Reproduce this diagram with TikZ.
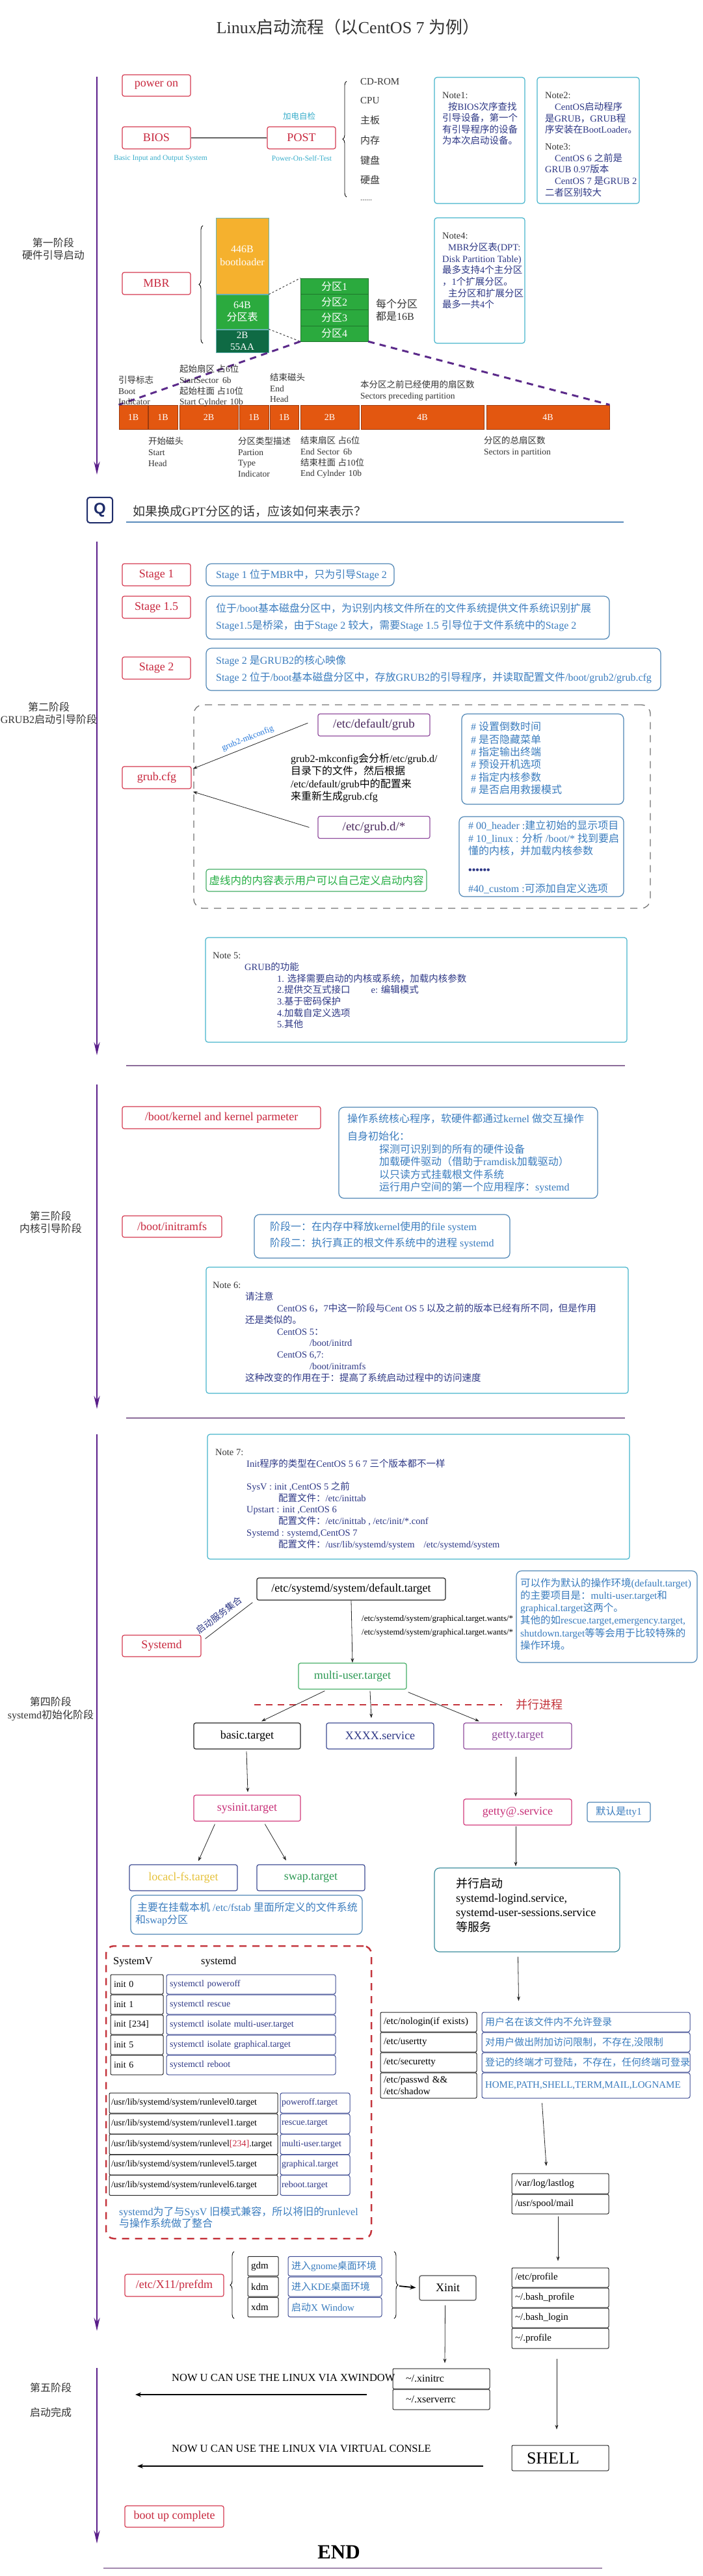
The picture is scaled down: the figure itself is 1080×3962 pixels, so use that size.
\documentclass[tikz,border=0pt]{standalone}
\usepackage{fontspec}
\setmainfont{Liberation Serif}
\newfontfamily\cjkf{Noto Sans CJK SC}
\newfontfamily\latf{Liberation Serif}
\newfontfamily\sansf{Liberation Sans}
\XeTeXinterchartokenstate=1
\newXeTeXintercharclass\zhcls
\newcount\zhcnt
\def\zhrange#1#2{\zhcnt=#1\relax\loop\XeTeXcharclass\zhcnt=\zhcls\relax\ifnum\zhcnt<#2\relax\advance\zhcnt by 1\relax\repeat}
\zhrange{"3000}{"303F}
\zhrange{"4E00}{"9FFF}
\zhrange{"FF00}{"FFEF}
\XeTeXinterchartoks 0 \zhcls = {\cjkf}
\XeTeXinterchartoks 4095 \zhcls = {\cjkf}
\XeTeXinterchartoks \zhcls 0 = {\latf}
\XeTeXinterchartoks \zhcls 4095 = {\latf}
\usetikzlibrary{arrows.meta,decorations.pathreplacing,calc}
\newcommand\fsz[2]{\fontsize{#1}{#2}\selectfont}
\definecolor{tlc}{HTML}{5A1F8A}
\definecolor{redb}{HTML}{D43A50}
\definecolor{redt}{HTML}{C8283E}
\definecolor{cyanb}{HTML}{45B4CC}
\definecolor{navyt}{HTML}{2E3886}
\definecolor{blueb}{HTML}{4D85B5}
\definecolor{bluet}{HTML}{3A7CBE}
\definecolor{cyant}{HTML}{3AAECB}
\definecolor{orangef}{HTML}{F5B12E}
\definecolor{greenf}{HTML}{2BAA3E}
\definecolor{dgreenf}{HTML}{0F6A44}
\definecolor{barf}{HTML}{E35710}
\definecolor{bard}{HTML}{9C3A0E}
\definecolor{purb}{HTML}{8F4A9C}
\definecolor{purt}{HTML}{4B2A5E}
\definecolor{pinkb}{HTML}{D2397C}
\definecolor{pinkt}{HTML}{C83078}
\definecolor{navyb}{HTML}{3C4A92}
\definecolor{greenb}{HTML}{45AE66}
\definecolor{greent}{HTML}{2E9A55}
\definecolor{sepc}{HTML}{8C6C9A}
\definecolor{qnavy}{HTML}{1E2C6A}
\definecolor{qlinec}{HTML}{5A8CBC}
\definecolor{yelt}{HTML}{E6C23C}
\definecolor{tealb}{HTML}{3A8C9C}
\definecolor{dashred}{HTML}{C4343C}
\definecolor{gtext}{HTML}{333333}
\definecolor{purpd}{HTML}{5B2A8A}
\begin{document}
\begin{tikzpicture}[x=1pt,y=-1pt,
  redbox/.style={draw=redb,text=redt,line width=1.2pt,rounded corners=3pt,fill=white,font=\fsz{18}{21},inner sep=0pt},
  notebox/.style={draw=cyanb,line width=1.2pt,rounded corners=4pt,inner sep=0pt},
  descbox/.style={draw=blueb,line width=1.2pt,rounded corners=8pt,inner sep=0pt},
  blkbox/.style={draw=black!85,line width=1.2pt,rounded corners=3pt,inner sep=0pt,fill=white},
  txt/.style={anchor=north west,inner sep=0pt,align=left},
  ltx/.style={anchor=west,inner sep=0pt},
  tline/.style={draw=tlc,line width=2.8pt,-{Stealth[length=20pt,width=9pt]}},
  sepline/.style={draw=sepc,line width=2.5pt},
  arr/.style={draw=black!85,line width=0.8pt,-{Stealth[length=7pt,width=5pt]}},
  bigarr/.style={draw=black,line width=2.2pt,-{Stealth[length=9pt,width=7pt]}},
  stg/.style={align=center,inner sep=0pt,font=\fsz{16}{19.5},text=gtext},
  barcell/.style={draw=bard,fill=barf,text=white,minimum height=37,inner sep=0pt,font=\fsz{14}{16},line width=0.8pt},
  part/.style={draw=greenf!70!black,fill=greenf,text=white,minimum width=104,minimum height=24.25,inner sep=0pt,font=\fsz{16}{18}},
  ibox/.style={draw=black!85,line width=1pt,rounded corners=2pt,inner xsep=5pt,inner ysep=0pt,minimum height=30,align=left,font=\fsz{14}{16}},
  sbox/.style={draw=navyb,line width=1pt,rounded corners=3pt,inner xsep=5pt,inner ysep=0pt,minimum height=30,align=left,font=\fsz{14}{16},text=navyt},
  brc/.style={decorate,decoration={brace,amplitude=6pt},line width=0.9pt}
]
\fill[white] (0,0) rectangle (1080,3962);
\useasboundingbox (0,0) rectangle (1080,3962);

% ---------- title
\node[font=\fsz{26}{30},text=gtext,inner sep=0pt] (title) at (535,42) {Linux启动流程（以CentOS 7 为例）};

% ---------- stage 1
\coordinate (t1a) at (149,118); \coordinate (t1b) at (149,730);
\draw[tline] (t1a) -- (t1b);
\node[stg] (s1) at (82,383) {第一阶段\\硬件引导启动};
\node[redbox,minimum width=105,minimum height=33] (poweron) at (240.5,131.5) {power on};
\node[redbox,minimum width=105,minimum height=34] (bios) at (240.5,212) {BIOS};
\node[redbox,minimum width=105,minimum height=34] (post) at (463.5,212) {POST};
\draw[draw=black!60,line width=2.5pt] (bios) -- (post);
\node[text=cyant,font=\fsz{11.5}{13},inner sep=0pt] (biosl) at (247,244) {Basic Input and Output System};
\node[text=cyant,font=\fsz{11.5}{13},inner sep=0pt] (postl) at (464,244) {Power-On-Self-Test};
\node[text=cyant,font=\fsz{12.5}{14},inner sep=0pt] (jd) at (460,179) {加电自检};
\coordinate (br1a) at (533,303); \coordinate (br1b) at (533,125);
\draw[brc] (br1a) -- (br1b);
\node[ltx,font=\fsz{15}{18},text=gtext] (hw1) at (554,126) {CD-ROM};
\node[ltx,font=\fsz{15}{18},text=gtext] (hw2) at (554,155) {CPU};
\node[ltx,font=\fsz{15}{18},text=gtext] (hw3) at (554,185) {主板};
\node[ltx,font=\fsz{15}{18},text=gtext] (hw4) at (554,216) {内存};
\node[ltx,font=\fsz{15}{18},text=gtext] (hw5) at (554,247) {键盘};
\node[ltx,font=\fsz{15}{18},text=gtext] (hw6) at (554,277) {硬盘};
\node[ltx,font=\fsz{12}{14},text=gtext] (hw7) at (554,308) {......};

\node[notebox,minimum width=139,minimum height=194] (note1) at (737.5,216) {};
\node[txt,text=navyt,font=\fsz{14.5}{17.5}] (note1t) at (680,142) {{\color{gtext}Note1:}\\\hspace*{9pt}按BIOS次序查找\\引导设备，第一个\\有引导程序的设备\\为本次启动设备。};
\node[notebox,minimum width=157,minimum height=194] (note2) at (904.5,216) {};
\node[txt,text=navyt,font=\fsz{14.5}{17.6}] (note2t) at (838,142) {{\color{gtext}Note2:}\\\hspace*{15pt}CentOS启动程序\\是GRUB，GRUB程\\序安装在BootLoader。\\[8.5pt]{\color{gtext}Note3:}\\\hspace*{15pt}CentOS 6 之前是\\GRUB 0.97版本\\\hspace*{15pt}CentOS 7 是GRUB 2\\二者区别较大};

% MBR
\node[redbox,minimum width=105,minimum height=34] (mbr) at (240.5,436) {MBR};
\coordinate (br2a) at (312,528); \coordinate (br2b) at (312,347);
\draw[brc] (br2a) -- (br2b);
\node[draw=teal!60,fill=orangef,minimum width=81,minimum height=117,inner sep=0pt,text=white,font=\fsz{16}{20},align=center] (boot) at (372.5,393.5) {446B\\bootloader};
\node[draw=teal!60,fill=greenf,minimum width=81,minimum height=53,inner sep=0pt,text=white,font=\fsz{16}{18.5},align=center] (ptab) at (372.5,479.5) {64B\\分区表};
\node[draw=teal!60,fill=dgreenf,minimum width=81,minimum height=35,inner sep=0pt,text=white,font=\fsz{15}{18},align=center] (aa55) at (372.5,524.5) {2B\\55AA};
\node[part] (p1) at (514,440.1) {分区1};
\node[part] (p2) at (514,464.4) {分区2};
\node[part] (p3) at (514,488.6) {分区3};
\node[part] (p4) at (514,512.9) {分区4};
\draw[dashed,black!80,line width=0.9pt] (ptab.north east) -- (p1.north west);
\draw[dashed,black!80,line width=0.9pt] (ptab.south east) -- (p4.south west);
\node[txt,font=\fsz{16}{19},text=gtext] (each) at (578,460) {每个分区\\都是16B};
\node[notebox,minimum width=139,minimum height=193] (note4) at (737.5,431.5) {};
\node[txt,text=navyt,font=\fsz{14.5}{17.7}] (note4t) at (680,358) {{\color{gtext}Note4:}\\\hspace*{9pt}MBR分区表(DPT:\\Disk Partition Table)\\最多支持4个主分区\\，1个扩展分区。\\\hspace*{9pt}主分区和扩展分区\\最多一共4个};

\node[barcell,minimum width=44] (c1) at (205,641.5) {1B};
\node[barcell,minimum width=45] (c2) at (250.5,641.5) {1B};
\node[barcell,minimum width=90] (c3) at (321,641.5) {2B};
\node[barcell,minimum width=45] (c4) at (390.5,641.5) {1B};
\node[barcell,minimum width=44] (c5) at (437,641.5) {1B};
\node[barcell,minimum width=90] (c6) at (507,641.5) {2B};
\node[barcell,minimum width=189] (c7) at (649.5,641.5) {4B};
\node[barcell,minimum width=189] (c8) at (842.5,641.5) {4B};
\draw[draw=purpd,line width=3pt,dash pattern=on 10pt off 8pt] (p4.south west) -- (c1.north west);
\draw[draw=purpd,line width=3pt,dash pattern=on 10pt off 8pt] (p4.south east) -- (c8.north east);

\node[txt,font=\fsz{13.5}{16.5},text=gtext] (lb1) at (182,578) {引导标志\\Boot\\Indicator};
\node[txt,font=\fsz{13.5}{16.7},text=gtext] (lb2) at (276,561) {起始扇区 占6位\\StartSector\hspace{6pt}6b\\起始柱面 占10位\\Start Cylnder\hspace{5pt}10b};
\node[txt,font=\fsz{13.5}{16.5},text=gtext] (lb3) at (415,574) {结束磁头\\End\\Head};
\node[txt,font=\fsz{13.5}{16.5},text=gtext] (lb4) at (554,585) {本分区之前已经使用的扇区数\\Sectors preceding partition};
\node[txt,font=\fsz{13.5}{17},text=gtext] (lb5) at (228,672) {开始磁头\\Start\\Head};
\node[txt,font=\fsz{13.5}{16.7},text=gtext] (lb6) at (366,672) {分区类型描述\\Partion\\Type\\Indicator};
\node[txt,font=\fsz{13.5}{16.7},text=gtext] (lb7) at (462,671) {结束扇区 占6位\\End Sector\hspace{6pt}6b\\结束柱面 占10位\\End Cylnder\hspace{5pt}10b};
\node[txt,font=\fsz{13.5}{17},text=gtext] (lb8) at (744,671) {分区的总扇区数\\Sectors in partition};

% ---------- Q
\node[draw=qnavy,line width=2pt,rounded corners=4pt,minimum width=39,minimum height=39,inner sep=0pt,text=qnavy,font=\sansf\bfseries\fsz{24}{26}] (q) at (153.5,784.5) {Q};
\node[ltx,font=\fsz{19}{22},text=gtext] (qt) at (204,786) {如果换成GPT分区的话，应该如何来表示？};
\coordinate (ql1) at (194,803); \coordinate (ql2) at (959,803);
\draw[draw=qlinec,line width=1.5pt] (ql1) -- (ql2);

% ---------- stage 2
\coordinate (t2a) at (149,833); \coordinate (t2b) at (149,1623);
\draw[tline] (t2a) -- (t2b);
\node[stg] (s2) at (75,1097) {第二阶段\\GRUB2启动引导阶段};
\node[redbox,minimum width=105,minimum height=34] (st1) at (240.5,884) {Stage 1};
\node[descbox,minimum width=289,minimum height=34] (st1d) at (461.5,884) {};
\node[ltx,font=\fsz{16}{19},text=bluet] (st1t) at (332,884) {Stage 1 位于MBR中，只为引导Stage 2};
\node[redbox,minimum width=105,minimum height=34] (st15) at (240.5,934) {Stage 1.5};
\node[descbox,minimum width=620,minimum height=66] (st15d) at (627,950) {};
\node[txt,font=\fsz{16}{26},text=bluet] (st15t) at (332,928) {位于/boot基本磁盘分区中，为识别内核文件所在的文件系统提供文件系统识别扩展\\Stage1.5是桥梁，由于Stage 2 较大，需要Stage 1.5 引导位于文件系统中的Stage 2};
\node[redbox,minimum width=105,minimum height=34] (st2) at (240.5,1027.5) {Stage 2};
\node[descbox,minimum width=699,minimum height=65] (st2d) at (666.5,1029.5) {};
\node[txt,font=\fsz{16}{26},text=bluet] (st2t) at (332,1008) {Stage 2 是GRUB2的核心映像\\Stage 2 位于/boot基本磁盘分区中，存放GRUB2的引导程序，并读取配置文件/boot/grub2/grub.cfg};

\node[draw=black!55,line width=1.3pt,dash pattern=on 11pt off 9pt,rounded corners=14pt,minimum width=702,minimum height=313,inner sep=0pt] (region) at (649,1240.5) {};
\node[redbox,minimum width=106,minimum height=34] (grubcfg) at (241,1196) {grub.cfg};
\node[draw=purb,line width=1.2pt,rounded corners=3pt,minimum width=172,minimum height=34,inner sep=0pt,text=purt,font=\fsz{19}{21}] (defgrub) at (575,1115) {/etc/default/grub};
\node[draw=purb,line width=1.2pt,rounded corners=3pt,minimum width=172,minimum height=34,inner sep=0pt,text=purt,font=\fsz{19}{21}] (grubd) at (575,1272.5) {/etc/grub.d/*};
\draw[arr] ($(defgrub.west)+(-15,-3)$) -- ($(grubcfg.north east)+(2,4)$);
\draw[arr] ($(grubd.west)+(-13,0)$) -- ($(grubcfg.south east)+(2,4)$);
\node[rotate=21.7,text=cyant!70!blue,font=\fsz{13}{15},inner sep=0pt] (mk) at (381,1136) {grub2-mkconfig};
\node[txt,font=\fsz{16}{19.3},text=black] (mkt) at (447,1159) {grub2-mkconfig会分析/etc/grub.d/\\目录下的文件，然后根据\\/etc/default/grub中的配置来\\来重新生成grub.cfg};
\node[descbox,minimum width=249,minimum height=139] (cm1) at (834.5,1167.5) {};
\node[txt,font=\fsz{16}{19.4},text=bluet] (cm1t) at (724,1110) {\# 设置倒数时间\\\# 是否隐藏菜单\\\# 指定输出终端\\\# 预设开机选项\\\# 指定内核参数\\\# 是否启用救援模式};
\node[descbox,minimum width=253,minimum height=123] (cm2) at (832.5,1317.5) {};
\node[txt,font=\fsz{16}{19.5},text=bluet] (cm2t) at (720,1262) {\# 00\_header :建立初始的显示项目\\\# 10\_linux : 分析 /boot/* 找到要启\\懂的内核，并加载内核参数\\[9pt]{\color{navyt}\bfseries ••••••}\\[10pt]\#40\_custom :可添加自定义选项};
\node[draw=greenb,line width=1.2pt,rounded corners=4pt,minimum width=339,minimum height=34,inner sep=0pt,text=greent!80!green,font=\fsz{16.5}{19}] (usr) at (486.5,1354) {虚线内的内容表示用户可以自己定义启动内容};

\node[notebox,minimum width=648,minimum height=161] (note5) at (640,1522.5) {};
\node[txt,text=navyt,font=\fsz{14.5}{17.7}] (note5t) at (327,1465) {{\color{gtext}Note 5:}\\\hspace*{49pt}GRUB的功能\\\hspace*{99pt}1. 选择需要启动的内核或系统，加载内核参数\\\hspace*{99pt}2.提供交互式接口\hspace*{32pt}e: 编辑模式\\\hspace*{99pt}3.基于密码保护\\\hspace*{99pt}4.加载自定义选项\\\hspace*{99pt}5.其他};
\coordinate (sp1a) at (194,1639); \coordinate (sp1b) at (961,1639);
\draw[sepline] (sp1a) -- (sp1b);

% ---------- stage 3
\coordinate (t3a) at (149,1668); \coordinate (t3b) at (149,2167);
\draw[tline] (t3a) -- (t3b);
\node[stg,font=\fsz{16}{18.5}] (s3) at (78,1880) {第三阶段\\内核引导阶段};
\node[redbox,minimum width=305,minimum height=34] (kern) at (340.5,1719) {/boot/kernel and kernel parmeter};
\node[descbox,minimum width=398,minimum height=140] (kernd) at (720,1773) {};
\node[txt,font=\fsz{16}{19.5},text=bluet] (kernt) at (534,1713) {操作系统核心程序，软硬件都通过kernel 做交互操作\\[7.5pt]自身初始化：\\\hspace*{49pt}探测可识别到的所有的硬件设备\\\hspace*{49pt}加载硬件驱动（借助于ramdisk加载驱动）\\\hspace*{49pt}以只读方式挂载根文件系统\\\hspace*{49pt}运行用户空间的第一个应用程序：systemd};
\node[redbox,minimum width=153,minimum height=33] (initr) at (264.5,1886.5) {/boot/initramfs};
\node[descbox,minimum width=393,minimum height=67] (initrd) at (587.5,1901.5) {};
\node[txt,font=\fsz{16}{25},text=bluet] (initrt) at (415,1879) {阶段一：在内存中释放kernel使用的file system\\阶段二：执行真正的根文件系统中的进程 systemd};
\node[notebox,minimum width=649,minimum height=194] (note6) at (641.5,2046) {};
\node[txt,text=navyt,font=\fsz{14.5}{17.8}] (note6t) at (327,1972) {{\color{gtext}Note 6:}\\\hspace*{50pt}请注意\\\hspace*{99pt}CentOS 6，7中这一阶段与Cent OS 5 以及之前的版本已经有所不同，但是作用\\\hspace*{50pt}还是类似的。\\\hspace*{99pt}CentOS 5：\\\hspace*{149pt}/boot/initrd\\\hspace*{99pt}CentOS 6,7:\\\hspace*{149pt}/boot/initramfs\\\hspace*{50pt}这种改变的作用在于：提高了系统启动过程中的访问速度};
\coordinate (sp2a) at (194,2181); \coordinate (sp2b) at (961,2181);
\draw[sepline] (sp2a) -- (sp2b);

% ---------- stage 4
\coordinate (t4a) at (149,2206); \coordinate (t4b) at (149,3585);
\draw[tline] (t4a) -- (t4b);
\node[stg,font=\fsz{16}{20}] (s4) at (78,2628) {第四阶段\\systemd初始化阶段};
\node[notebox,minimum width=649,minimum height=192] (note7) at (643.5,2302) {};
\node[txt,text=navyt,font=\fsz{14.5}{17.8}] (note7t) at (331,2229) {{\color{gtext}Note 7:}\\\hspace*{48pt}Init程序的类型在CentOS 5 6 7 三个版本都不一样\\[17pt]\hspace*{48pt}SysV : init ,CentOS 5 之前\\\hspace*{97pt}配置文件：/etc/inittab\\\hspace*{48pt}Upstart : init ,CentOS 6\\\hspace*{97pt}配置文件：/etc/inittab , /etc/init/*.conf\\\hspace*{48pt}Systemd : systemd,CentOS 7\\\hspace*{97pt}配置文件：/usr/lib/systemd/system\hspace{14pt}/etc/systemd/system};

\node[blkbox,minimum width=290,minimum height=34,font=\fsz{18}{21}] (deft) at (540,2444) {/etc/systemd/system/default.target};
\node[redbox,minimum width=121,minimum height=33] (sysd) at (248.5,2531.5) {Systemd};
\draw[draw=black!85,line width=0.8pt] ($(sysd.north east)+(6,6)$) -- ($(deft.south west)+(-6,3)$);
\node[rotate=37.6,text=navyt,font=\fsz{14}{16},inner sep=0pt] (qdfw) at (337,2484) {启动服务集合};
\node[draw=greenb,line width=1.2pt,rounded corners=3pt,minimum width=166,minimum height=40,inner sep=0pt,text=greent,font=\fsz{18}{21},fill=white] (multi) at (542,2578) {multi-user.target};
\draw[arr] (deft.south) -- (multi.north);
\node[ltx,font=\fsz{13}{15},text=black] (wt1) at (556,2490) {/etc/systemd/system/graphical.target.wants/*};
\node[ltx,font=\fsz{13}{15},text=black] (wt2) at (556,2511) {/etc/systemd/system/graphical.target.wants/*};
\node[descbox,minimum width=278,minimum height=141] (dtd) at (933,2486.5) {};
\node[txt,font=\fsz{15.5}{19.2},text=bluet] (dtt) at (800,2427) {可以作为默认的操作环境(default.target)\\的主要项目是：multi-user.target和\\graphical.target这两个。\\其他的如rescue.target,emergency.target,\\shutdown.target等等会用于比较特殊的\\操作环境。};
\coordinate (pl1) at (391,2622); \coordinate (pl2) at (772,2622);
\draw[draw=dashred,line width=2.5pt,dash pattern=on 10pt off 8pt] (pl1) -- (pl2);
\node[ltx,font=\fsz{18}{21},text=dashred] (plt) at (793,2622) {并行进程};

\node[blkbox,minimum width=164,minimum height=40,font=\fsz{18}{21}] (basic) at (380,2670) {basic.target};
\node[draw=navyb,line width=1.2pt,rounded corners=3pt,minimum width=165,minimum height=40,inner sep=0pt,text=navyt,font=\fsz{18}{21}] (xxxx) at (584.5,2670) {XXXX.service};
\node[draw=purb,line width=1.2pt,rounded corners=3pt,minimum width=166,minimum height=40,inner sep=0pt,text=purb,font=\fsz{18}{21}] (getty) at (796,2670) {getty.target};
\draw[arr] ($(multi.south west)+(41,2)$) -- ($(basic.north)+(22,-2)$);
\draw[arr] ($(multi.south)+(27,2)$) -- ($(xxxx.north)+(-13.5,-7)$);
\draw[arr] ($(multi.south east)+(2,4)$) -- ($(getty.north)+(-59,-2)$);
\node[draw=pinkb,line width=1.2pt,rounded corners=3pt,minimum width=164,minimum height=40,inner sep=0pt,text=pinkt,font=\fsz{18}{21}] (sysinit) at (380,2781) {sysinit.target};
\draw[arr] ($(basic.south)+(-1,3)$) -- ($(sysinit.north)+(1,-4)$);
\node[draw=pinkb,line width=1.2pt,rounded corners=3pt,minimum width=166,minimum height=40,inner sep=0pt,text=pinkt,font=\fsz{18}{21}] (gettys) at (796,2787) {getty@.service};
\draw[arr] ($(getty.south)+(-3,11)$) -- ($(gettys.north)+(-3,-3)$);
\node[descbox,rounded corners=3pt,minimum width=97,minimum height=30,text=bluet,font=\fsz{15.5}{18}] (tty) at (951.5,2787) {默认是tty1};
\node[draw=navyb,line width=1.2pt,rounded corners=3pt,minimum width=166,minimum height=40,inner sep=0pt,text=yelt,font=\fsz{18}{21}] (localfs) at (282,2888) {locacl-fs.target};
\node[draw=navyb,line width=1.2pt,rounded corners=3pt,minimum width=166,minimum height=40,inner sep=0pt,text=greent,font=\fsz{18}{21}] (swap) at (478,2888) {swap.target};
\draw[arr] ($(sysinit.south west)+(33,4)$) -- ($(localfs.north)+(23,-5)$);
\draw[arr] ($(sysinit.south west)+(110,4)$) -- ($(swap.north)+(-38,-6)$);
\node[descbox,minimum width=356,minimum height=60] (fstab) at (379,2945) {};
\node[txt,font=\fsz{16}{19},text=bluet] (fstabt) at (208,2926) {\hspace*{3pt}主要在挂载本机 /etc/fstab 里面所定义的文件系统\\和swap分区};
\node[draw=tealb,line width=1.2pt,rounded corners=8pt,minimum width=285,minimum height=129,inner sep=0pt] (par) at (810.5,2937.5) {};
\draw[arr] ($(gettys.south)+(-3,1)$) -- ($(par.north)+(-17.5,-2)$);
\node[txt,font=\fsz{18}{22.2},text=black] (part) at (701,2888) {并行启动\\systemd-logind.service,\\systemd-user-sessions.service\\等服务};

% SysV table
\node[draw=dashred,line width=2.5pt,dash pattern=on 11pt off 9pt,rounded corners=12pt,minimum width=408,minimum height=450,inner sep=0pt] (sysv) at (367,3218) {};
\node[ltx,font=\fsz{16.5}{19},text=black] (svh) at (174,3018) {SystemV};
\node[ltx,font=\fsz{16.5}{19},text=black] (sdh) at (309,3018) {systemd};
\node[ibox,text width=71] (i0) at (210.5,3052) {init 0};
\node[ibox,text width=71] (i1) at (210.5,3083) {init 1};
\node[ibox,text width=71] (i2) at (210.5,3114) {init [234]};
\node[ibox,text width=71] (i5) at (210.5,3145) {init 5};
\node[ibox,text width=71] (i6) at (210.5,3176) {init 6};
\node[sbox,text width=250] (s0) at (386,3052) {systemctl poweroff};
\node[sbox,text width=250] (s1x) at (386,3083) {systemctl rescue};
\node[sbox,text width=250] (s2x) at (386,3114) {systemctl isolate multi-user.target};
\node[sbox,text width=250] (s5x) at (386,3145) {systemctl isolate graphical.target};
\node[sbox,text width=250] (s6x) at (386,3176) {systemctl reboot};
\node[ibox,inner xsep=3pt,text width=253,minimum height=31] (r0) at (297.5,3234.5) {/usr/lib/systemd/system/runlevel0.target};
\node[ibox,inner xsep=3pt,text width=253,minimum height=31] (r1) at (297.5,3266.5) {/usr/lib/systemd/system/runlevel1.target};
\node[ibox,inner xsep=3pt,text width=253,minimum height=31] (r2) at (297.5,3298) {/usr/lib/systemd/system/runlevel{\color{redt}[234]}.target};
\node[ibox,inner xsep=3pt,text width=253,minimum height=31] (r5) at (297.5,3329.5) {/usr/lib/systemd/system/runlevel5.target};
\node[ibox,inner xsep=3pt,text width=253,minimum height=31] (r6) at (297.5,3361) {/usr/lib/systemd/system/runlevel6.target};
\node[sbox,inner xsep=2pt,text width=103,minimum height=31] (g0) at (484.5,3234.5) {poweroff.target};
\node[sbox,inner xsep=2pt,text width=103,minimum height=31] (g1) at (484.5,3266.5) {rescue.target};
\node[sbox,inner xsep=2pt,text width=103,minimum height=31] (g2) at (484.5,3298) {multi-user.target};
\node[sbox,inner xsep=2pt,text width=103,minimum height=31] (g5) at (484.5,3329.5) {graphical.target};
\node[sbox,inner xsep=2pt,text width=103,minimum height=31] (g6) at (484.5,3361) {reboot.target};
\node[txt,font=\fsz{16}{18},text=bluet] (compat) at (183,3394) {systemd为了与SysV 旧模式兼容，所以将旧的runlevel\\与操作系统做了整合};

% login table
\node[ibox,text width=138,font=\fsz{15}{17}] (l1) at (659,3110) {/etc/nologin(if exists)};
\node[ibox,text width=138,font=\fsz{15}{17}] (l2) at (659,3141) {/etc/usertty};
\node[ibox,text width=138,font=\fsz{15}{17}] (l3) at (659,3172) {/etc/securetty};
\node[ibox,text width=138,font=\fsz{15}{18},minimum height=39] (l4) at (659,3207.5) {/etc/passwd \&\&\\/etc/shadow};
\node[sbox,text width=310,font=\fsz{15}{17},text=bluet] (lr1) at (901,3110) {用户名在该文件内不允许登录};
\node[sbox,text width=310,font=\fsz{15}{17},text=bluet] (lr2) at (901,3141) {对用户做出附加访问限制，不存在,没限制};
\node[sbox,text width=310,font=\fsz{15}{17},text=bluet] (lr3) at (901,3172) {登记的终端才可登陆，不存在，任何终端可登录};
\node[sbox,text width=310,font=\fsz{15}{17},text=bluet,minimum height=39] (lr4) at (901,3207.5) {HOME,PATH,SHELL,TERM,MAIL,LOGNAME};
\draw[arr] ($(par.south)+(-14,7)$) -- ($(lr1.north west)+(57,-17)$);
\node[ibox,text width=139,font=\fsz{15}{17},minimum height=31] (lastlog) at (861.5,3358.5) {/var/log/lastlog};
\node[ibox,text width=139,font=\fsz{15}{17},minimum height=30] (spool) at (861.5,3390) {/usr/spool/mail};
\draw[arr] ($(lr4.south west)+(93,7)$) -- ($(lastlog.north)+(-21.5,-11)$);
\node[ibox,text width=139,font=\fsz{15}{17}] (pf1) at (861.5,3503) {/etc/profile};
\node[ibox,text width=139,font=\fsz{15}{17}] (pf2) at (861.5,3534) {\textasciitilde/.bash\_profile};
\node[ibox,text width=139,font=\fsz{15}{17}] (pf3) at (861.5,3565) {\textasciitilde/.bash\_login};
\node[ibox,text width=139,font=\fsz{15}{17},minimum height=31] (pf4) at (861.5,3596.5) {\textasciitilde/.profile};
\draw[arr] ($(spool.south)+(-3.5,3)$) -- ($(pf1.north)+(-3.5,-10)$);

% prefdm
\node[redbox,minimum width=152,minimum height=34] (prefdm) at (268,3515) {/etc/X11/prefdm};
\coordinate (br3a) at (360,3566); \coordinate (br3b) at (360,3463);
\draw[brc] (br3a) -- (br3b);
\node[ibox,text width=37,font=\fsz{15}{17}] (gdm) at (404.5,3485.5) {gdm};
\node[ibox,text width=37,font=\fsz{15}{17}] (kdm) at (404.5,3517) {kdm};
\node[ibox,text width=37,font=\fsz{15}{17}] (xdm) at (404.5,3548.5) {xdm};
\node[sbox,text width=134,font=\fsz{15}{17},text=bluet] (gdmd) at (515,3485.5) {进入gnome桌面环境};
\node[sbox,text width=134,font=\fsz{15}{17},text=bluet] (kdmd) at (515,3517) {进入KDE桌面环境};
\node[sbox,text width=134,font=\fsz{15}{17},text=bluet] (xdmd) at (515,3548.5) {启动X Window};
\coordinate (br4a) at (606,3463); \coordinate (br4b) at (606,3566);
\draw[brc] (br4a) -- (br4b);
\coordinate (br4t) at (614,3516);
\node[blkbox,draw=black!70,minimum width=87,minimum height=38,font=\fsz{18}{20}] (xinit) at (688.5,3519) {Xinit};
\draw[bigarr,line width=1.8pt,shorten >=5pt] (br4t) -- (xinit.west);

% ---------- stage 5
\coordinate (t5a) at (149,3642); \coordinate (t5b) at (149,3912);
\draw[tline] (t5a) -- (t5b);
\node[stg,font=\fsz{16}{38}] (s5) at (78,3691) {第五阶段\\启动完成};
\node[ibox,inner xsep=20pt,text width=109,font=\fsz{16}{18},minimum height=31] (xinitrc) at (678.5,3658.5) {\textasciitilde/.xinitrc};
\node[ibox,inner xsep=20pt,text width=109,font=\fsz{16}{18},minimum height=31] (xserverrc) at (678.5,3690.5) {\textasciitilde/.xserverrc};
\draw[arr] ($(xinit.south)+(-4,7)$) -- ($(xinitrc.north)+(5.5,-8)$);
\node[ltx,font=\fsz{16.5}{19},text=black] (xwt) at (264,3657) {NOW U CAN USE THE LINUX VIA XWINDOW};
\coordinate (xw1) at (564,3683); \coordinate (xw2) at (208,3683);
\draw[bigarr] (xw1) -- (xw2);
\node[ibox,inner xsep=23pt,text width=103,font=\fsz{26}{28},minimum height=39] (shell) at (861.5,3780.5) {SHELL};
\draw[arr] ($(pf4.south)+(-5.5,15)$) -- ($(shell.north)+(-5.5,-24)$);
\node[ltx,font=\fsz{16.5}{19},text=black] (vct) at (264,3766) {NOW U CAN USE THE LINUX VIA VIRTUAL CONSLE};
\coordinate (vc1) at (743,3793); \coordinate (vc2) at (211,3793);
\draw[bigarr] (vc1) -- (vc2);
\node[redbox,minimum width=152,minimum height=33] (bootup) at (268,3870.5) {boot up complete};
\node[font=\bfseries\fsz{31}{34},text=black,inner sep=0pt] (endt) at (521,3925) {END};
\coordinate (sp3a) at (159,3950); \coordinate (sp3b) at (926,3950);
\draw[draw=sepc!80,line width=2pt] (sp3a) -- (sp3b);
\end{tikzpicture}
\end{document}
